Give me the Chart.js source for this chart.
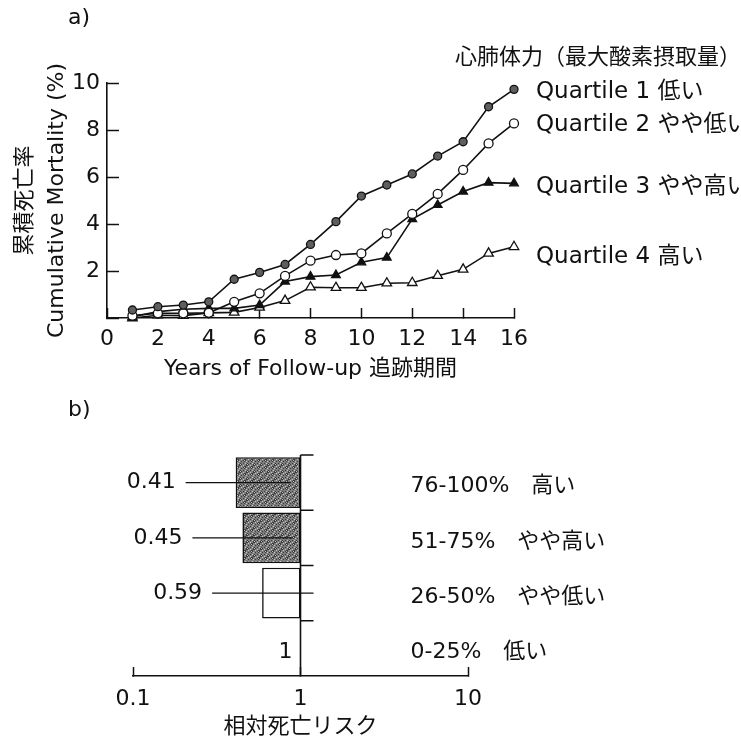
<!DOCTYPE html>
<html>
<head>
<meta charset="utf-8">
<script src="https://cdn.jsdelivr.net/npm/chart.js@4.4.0/dist/chart.umd.min.js"></script>
<style>
  html, body { margin: 0; padding: 0; background: #fff; }
  #page { position: relative; width: 741px; height: 740px; overflow: hidden;
          font-family: 'DejaVu Sans', 'Noto Sans CJK JP', sans-serif; color: #111; }
  canvas { position: absolute; left: 0; }
  #chartA { top: 0; }
  #chartB { top: 390px; }
  .tag { position: absolute; left: 68px; font-size: 22px; line-height: 1; }
</style>
</head>
<body>
<div id="page">
  <canvas id="chartA" width="741" height="390"></canvas>
  <canvas id="chartB" width="741" height="350"></canvas>
  <div class="tag" style="top:6px">a)</div>
  <div class="tag" style="top:398px">b)</div>
</div>
<script>
'use strict';

const FONT = "'DejaVu Sans', 'Noto Sans CJK JP', sans-serif";
const INK = '#111';

// ---- a) cumulative mortality by fitness quartile ----
const years = [1, 2, 3, 4, 5, 6, 7, 8, 9, 10, 11, 12, 13, 14, 15, 16];
const xTicksA = [0, 2, 4, 6, 8, 10, 12, 14, 16];
const yTicksA = [0, 2, 4, 6, 8, 10];
const q1Low     = [0.34, 0.48, 0.55, 0.69, 1.65, 1.94, 2.28, 3.13, 4.10, 5.19, 5.66, 6.13, 6.89, 7.50, 8.99, 9.73];
const q2MidLow  = [0.10, 0.20, 0.20, 0.22, 0.69, 1.05, 1.79, 2.44, 2.68, 2.75, 3.60, 4.43, 5.28, 6.30, 7.43, 8.28];
const q3MidHigh = [0.05, 0.27, 0.37, 0.41, 0.41, 0.55, 1.55, 1.76, 1.83, 2.37, 2.57, 4.21, 4.81, 5.38, 5.76, 5.73];
const q4High    = [0.00, 0.12, 0.10, 0.22, 0.24, 0.45, 0.74, 1.31, 1.29, 1.29, 1.48, 1.50, 1.80, 2.07, 2.75, 3.03];
const quartileNames = ['Quartile 1 低い', 'Quartile 2 やや低い', 'Quartile 3 やや高い', 'Quartile 4 高い'];
const legendHeader = '心肺体力（最大酸素摂取量）';

// ---- b) relative mortality risk ----
const riskGroups = ['76-100%　高い', '51-75%　やや高い', '26-50%　やや低い', '0-25%　低い'];
const relRisk = [0.41, 0.45, 0.59, 1];
const xTicksB = [0.1, 1, 10];

Chart.defaults.font.family = FONT;
Chart.defaults.color = INK;

// ---- a) chart ----
const seriesA = [q1Low, q2MidLow, q3MidHigh, q4High];
const markers = [
  { style: 'circle',   r: 4,   fill: '#5e5e5e' },
  { style: 'circle',   r: 4.5, fill: '#fff' },
  { style: 'triangle', r: 5,   fill: INK },
  { style: 'triangle', r: 5.5, fill: '#fff' },
];
const labelNudge = [3, 2, 4, 10]; // px below the last point

const quartileText = {
  id: 'quartileText',
  afterDraw(chart) {
    const { ctx, scales: { x, y } } = chart;
    ctx.save();
    ctx.fillStyle = INK;
    ctx.textBaseline = 'middle';
    ctx.font = `22px ${FONT}`;
    ctx.fillText(legendHeader, 455, 58);
    ctx.font = `23px ${FONT}`;
    seriesA.forEach((vals, i) => {
      const last = vals.length - 1;
      const px = x.getPixelForValue(years[last]) + 22;
      const py = y.getPixelForValue(vals[last]) + labelNudge[i];
      ctx.fillText(quartileNames[i], px, py);
    });
    ctx.restore();
  }
};

new Chart(document.getElementById('chartA'), {
  type: 'line',
  data: {
    datasets: seriesA.map((vals, i) => ({
      label: quartileNames[i],
      data: vals.map((v, k) => ({ x: years[k], y: v })),
      borderColor: INK,
      borderWidth: 1.6,
      pointStyle: markers[i].style,
      pointRadius: markers[i].r,
      pointBackgroundColor: markers[i].fill,
      pointBorderColor: INK,
      pointBorderWidth: 1.3,
      tension: 0,
      fill: false,
      clip: false
    }))
  },
  options: {
    responsive: false,
    animation: false,
    devicePixelRatio: 1,
    layout: { padding: { left: 0, top: 83, right: 227, bottom: 0 } },
    plugins: { legend: { display: false }, tooltip: { enabled: false } },
    scales: {
      x: {
        type: 'linear', min: 0, max: 16,
        afterBuildTicks: s => { s.ticks = xTicksA.map(v => ({ value: v })); },
        afterFit: s => { s.height = 72; },
        grid: { drawOnChartArea: false, tickLength: -10, tickColor: INK, tickWidth: 1.5 },
        border: { color: INK, width: 1.6 },
        ticks: { color: INK, font: { size: 22 }, padding: 18, maxRotation: 0, autoSkip: false },
        title: { display: true, text: 'Years of Follow-up 追跡期間', color: INK,
                 font: { size: 22, lineHeight: 1.45 }, padding: { top: 0, bottom: 5 } }
      },
      y: {
        type: 'linear', min: 0, max: 10,
        afterBuildTicks: s => { s.ticks = yTicksA.map(v => ({ value: v })); },
        afterFit: s => { s.width = 107; },
        grid: { drawOnChartArea: false, tickLength: -12, tickColor: INK, tickWidth: 1.5 },
        border: { color: INK, width: 1.6 },
        ticks: { color: INK, font: { size: 22 }, padding: 19, callback: v => (v === 0 ? '' : v) },
        title: { display: true, text: ['累積死亡率', 'Cumulative Mortality (%)'], color: INK,
                 font: { size: 22, lineHeight: 1.45 }, padding: { top: 9, bottom: 0 } }
      }
    }
  },
  plugins: [quartileText]
});

// ---- b) chart ----
const ctxB = document.getElementById('chartB').getContext('2d');

function makeStipple(ctx) {
  const c = document.createElement('canvas');
  c.width = 7; c.height = 7;
  const g = c.getContext('2d');
  g.fillStyle = '#7c7c7c';
  g.fillRect(0, 0, 7, 7);
  for (let i = 0; i < 7; i++) {
    for (let j = 0; j < 7; j++) {
      const k = (i * 5 + j * 3 + i * j) % 7;
      if (k === 0 || k === 4) { g.fillStyle = '#3a3a3a'; g.fillRect(i, j, 1, 1); }
      else if (k === 2) { g.fillStyle = '#c4c4c4'; g.fillRect(i, j, 1, 1); }
    }
  }
  return ctx.createPattern(c, 'repeat');
}
const stipple = makeStipple(ctxB);
const barFills = relRisk.map(v => (v >= 1 ? 'rgba(0,0,0,0)' : v < 0.5 ? stipple : '#fff'));
const leaderEnd = [-10, -8, 13]; // px from the x=1 axis

const riskText = {
  id: 'riskText',
  afterDatasetsDraw(chart) {
    const { ctx, chartArea, scales: { x, y } } = chart;
    const ax = x.getPixelForValue(1);
    const step = y.getPixelForValue(1) - y.getPixelForValue(0);
    ctx.save();
    ctx.strokeStyle = INK;
    ctx.lineWidth = 1.6;
    ctx.beginPath();
    ctx.moveTo(ax, chartArea.top);
    ctx.lineTo(ax, chartArea.bottom);
    riskGroups.forEach((_, i) => {
      const yb = y.getPixelForValue(i) - step / 2;
      ctx.moveTo(ax, yb);
      ctx.lineTo(ax + 13, yb);
    });
    ctx.stroke();

    ctx.fillStyle = INK;
    ctx.textBaseline = 'middle';
    ctx.font = `22px ${FONT}`;
    relRisk.forEach((v, i) => {
      const cy = y.getPixelForValue(i);
      if (v >= 1) {
        ctx.textAlign = 'right';
        ctx.fillText(String(v), ax - 8, cy + 4);
        return;
      }
      const right = x.getPixelForValue(v) - 60;
      ctx.textAlign = 'right';
      ctx.fillText(v.toFixed(2), right, cy);
      ctx.beginPath();
      ctx.lineWidth = 1.3;
      ctx.moveTo(right + 10, cy);
      ctx.lineTo(ax + leaderEnd[i], cy);
      ctx.stroke();
    });
    ctx.textAlign = 'left';
    riskGroups.forEach((name, i) => {
      ctx.fillText(name, ax + 110, y.getPixelForValue(i) + 4);
    });
    ctx.restore();
  }
};

new Chart(ctxB, {
  type: 'bar',
  data: {
    labels: riskGroups,
    datasets: [{
      data: relRisk.map(v => [v, 1]),
      backgroundColor: barFills,
      borderColor: relRisk.map(v => (v >= 1 ? 'rgba(0,0,0,0)' : INK)),
      borderWidth: 1.6,
      borderSkipped: false,
      barPercentage: 0.92,
      categoryPercentage: 1
    }]
  },
  options: {
    indexAxis: 'y',
    responsive: false,
    animation: false,
    devicePixelRatio: 1,
    layout: { padding: { left: 133, top: 65, right: 273, bottom: 0 } },
    plugins: { legend: { display: false }, tooltip: { enabled: false } },
    scales: {
      x: {
        type: 'logarithmic', min: 0.1, max: 10,
        afterBuildTicks: s => { s.ticks = xTicksB.map(v => ({ value: v })); },
        afterFit: s => { s.height = 64; },
        grid: { drawOnChartArea: false, tickLength: -9, tickColor: INK, tickWidth: 1.5 },
        border: { color: INK, width: 1.6 },
        ticks: { color: INK, font: { size: 22 }, padding: 19, maxRotation: 0, autoSkip: false,
                 callback: v => String(v) },
        title: { display: true, text: '相対死亡リスク', color: INK,
                 font: { size: 22, lineHeight: 1.2 }, padding: { top: 0, bottom: 0 } }
      },
      y: { type: 'category', display: false }
    }
  },
  plugins: [riskText]
});
</script>
</body>
</html>
